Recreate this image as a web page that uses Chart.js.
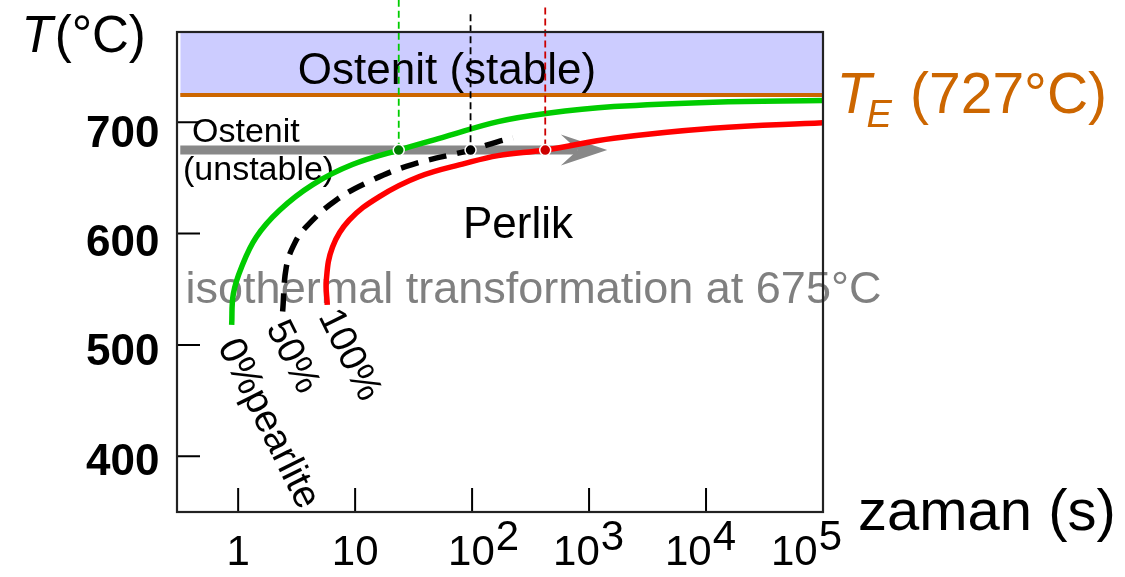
<!DOCTYPE html>
<html><head><meta charset="utf-8">
<script src="https://cdn.jsdelivr.net/npm/chart.js@4.4.0/dist/chart.umd.min.js"></script>
<style>html,body{margin:0;padding:0;background:#fff;}canvas{display:block;}</style>
</head><body>
<canvas id="c" width="1125" height="577"></canvas>
<script>
// ---- axis ticks ----
const xTickValues = [1, 10, 100, 1000, 10000, 100000];
const xTickBase = ['1', '10', '10', '10', '10', '10'];
const xTickExp = ['', '', '2', '3', '4', '5'];
const yTickValues = [400, 500, 600, 700];
const yTickLabels = ['400', '500', '600', '700'];

// ---- axis ranges ----
const timeMin = 0.32, timeMax = 100000;
const tempMin = 350, tempMax = 781;

// ---- reference temperatures ----
const eutectoidLabel = '727';
const eutectoidLine = 724.5;   // as drawn in the picture
const isoT = 675;

// ---- 0% pearlite (start) curve ----
const startTime = [0.88, 0.91, 1.07, 1.43, 2.26, 4.34, 9.48, 23.6, 59, 167, 442, 1628, 11500, 100000];
const startTemp = [518, 546, 570, 597, 621, 644, 662, 675, 687, 700.5, 708, 714, 718, 719.4];

// ---- 50% pearlite curve ----
const halfTime = [2.4, 2.58, 3.03, 3.81, 6.86, 14.0, 30.7, 97, 167, 224];
const halfTemp = [530, 570, 591, 606, 630, 648, 662, 675, 682.6, 686];

// ---- 100% pearlite (finish) curve ----
const finishTime = [5.78, 5.67, 6.41, 8.89, 16.0, 35.0, 87.2, 167, 422, 1628, 11500, 100000];
const finishTemp = [536, 558, 588, 612, 633, 651, 663, 670, 675, 685.6, 694.6, 699.6];

// ---- isothermal markers ----
const markTimes = [23.6, 97, 422];
const markTemps = [675, 675, 675];
const guideTopTemps = [810, 797, 803];

// ---- isothermal arrow ----
const arrowNotchTime = 800;
const arrowBackTime = 574;
const arrowTipTime = 1430;

const FONT = '"Liberation Sans", Arial, Helvetica, sans-serif';
const pts = (xs, ys) => xs.map((v, i) => ({x: v, y: ys[i]}));

function fontStr(size, o) {
  return (o.style || 'normal') + ' ' + (o.weight || 'normal') + ' ' + size + 'px ' + FONT;
}
function text(ctx, s, px, py, size, o = {}) {
  ctx.save();
  ctx.font = fontStr(size, o);
  ctx.fillStyle = o.color || '#000';
  ctx.textAlign = o.align || 'left';
  ctx.textBaseline = o.baseline || 'alphabetic';
  ctx.fillText(s, px, py);
  const w = ctx.measureText(s).width;
  ctx.restore();
  return w;
}
function measure(ctx, s, size, o = {}) {
  ctx.save();
  ctx.font = fontStr(size, o);
  const w = ctx.measureText(s).width;
  ctx.restore();
  return w;
}

const IDX_TE = 8, IDX_ARROW = 7;
// label placement tweaks (style only)
const xLabelShift = [0, 0, 11, -1, -6, -17];
const yLabelDrop = [19, 20.5, 22, 24.4];

const deco = {
  id: 'deco',
  afterDatasetDraw(chart, args) {
    const {ctx, scales: {x, y}} = chart;
    if (args.index === IDX_TE) {
      text(ctx, 'Ostenit (stable)', 447, 84, 44, {align: 'center'});
      text(ctx, 'Ostenit', 192, 141.5, 34);
      text(ctx, '(unstable)', 183, 180, 34);
      text(ctx, 'Perlik', 518, 238, 44, {align: 'center'});
      text(ctx, 'isothermal transformation at 675°C', 533.5, 303, 45, {align: 'center', color: '#808080'});
    }
    if (args.index === IDX_ARROW) {
      const yy = y.getPixelForValue(isoT);
      const xb = x.getPixelForValue(arrowBackTime);
      const xn = x.getPixelForValue(arrowNotchTime);
      const xt = x.getPixelForValue(arrowTipTime);
      ctx.save();
      ctx.fillStyle = '#888888';
      ctx.beginPath();
      ctx.moveTo(xb, yy - 15.5);
      ctx.lineTo(xt, yy);
      ctx.lineTo(xb, yy + 15.5);
      ctx.lineTo(xn, yy);
      ctx.closePath();
      ctx.fill();
      ctx.restore();
    }
  },
  afterDatasetsDraw(chart) {
    const {ctx, chartArea: a, scales: {x, y}} = chart;
    ctx.save();
    ctx.strokeStyle = '#000';
    ctx.lineWidth = 2;
    ctx.beginPath();
    yTickValues.forEach(v => { const py = y.getPixelForValue(v); ctx.moveTo(a.left, py); ctx.lineTo(a.left + 23, py); });
    xTickValues.forEach(v => { const px = x.getPixelForValue(v); if (px < a.right - 2) { ctx.moveTo(px, a.bottom); ctx.lineTo(px, a.bottom - 24); } });
    ctx.stroke();
    ctx.strokeStyle = '#222';
    ctx.lineWidth = 2.2;
    ctx.strokeRect(a.left, a.top, a.right - a.left, a.bottom - a.top);
    ctx.restore();
  },
  afterDraw(chart) {
    const {ctx, scales: {x, y}} = chart;
    // y tick labels
    yTickValues.forEach((v, i) => {
      text(ctx, yTickLabels[i], 159.5, y.getPixelForValue(v) + yLabelDrop[i], 44, {weight: 'bold', align: 'right'});
    });
    // x tick labels
    xTickValues.forEach((v, i) => {
      const px = x.getPixelForValue(v) + xLabelShift[i];
      const wb = measure(ctx, xTickBase[i], 42);
      const we = xTickExp[i] ? measure(ctx, xTickExp[i], 42) : 0;
      const start = px - (wb + we) / 2;
      text(ctx, xTickBase[i], start, 565, 42);
      if (xTickExp[i]) text(ctx, xTickExp[i], start + wb + 1, 550, 42);
    });
    // axis titles
    let w = text(ctx, 'T', 21.5, 51.7, 51, {style: 'italic'});
    text(ctx, '(°C)', 21.5 + w + 2, 51.7, 51);
    text(ctx, 'zaman (s)', 858, 530, 58);
    // eutectoid label
    const org = '#cc6600';
    text(ctx, 'T', 836.5, 113.3, 57, {style: 'italic', color: org});
    text(ctx, 'E', 866.5, 127, 38, {style: 'italic', color: org});
    text(ctx, '(' + eutectoidLabel + '°C)', 910, 113.3, 57, {color: org});
    // rotated curve labels
    const ang = 63.5 * Math.PI / 180;
    [['0%pearlite', 268, 424, 39], ['50%', 292, 357, 38], ['100%', 349, 355, 38]].forEach(([s, cx, cy, fs]) => {
      ctx.save();
      ctx.translate(cx, cy);
      ctx.rotate(ang);
      text(ctx, s, 0, 0, fs, {align: 'center', baseline: 'middle'});
      ctx.restore();
    });
  }
};

new Chart(document.getElementById('c'), {
  type: 'line',
  data: {
    datasets: [
      {label: 'markers', data: pts(markTimes, markTemps), showLine: false, pointRadius: 5.5, pointBorderWidth: 1.5,
       pointBorderColor: '#ffffff', pointBackgroundColor: ['#007a00', '#000000', '#cc0000'], order: 0},
      {label: 'g0', data: pts([markTimes[0], markTimes[0]], [guideTopTemps[0], markTemps[0]]), borderColor: '#00cc00',
       borderWidth: 1.8, borderDash: [7, 4], pointRadius: 0, clip: false, order: 1},
      {label: 'g1', data: pts([markTimes[1], markTimes[1]], [guideTopTemps[1], markTemps[1]]), borderColor: '#000000',
       borderWidth: 1.8, borderDash: [7, 4], pointRadius: 0, clip: false, order: 1},
      {label: 'g2', data: pts([markTimes[2], markTimes[2]], [guideTopTemps[2], markTemps[2]]), borderColor: '#cc0000',
       borderWidth: 1.8, borderDash: [7, 4], pointRadius: 0, clip: false, order: 1},
      {label: '0%', data: pts(startTime, startTemp), borderColor: '#00cc00', borderWidth: 5.5, tension: 0.4, pointRadius: 0, order: 2},
      {label: '50%', data: pts(halfTime, halfTemp), borderColor: '#000000', borderWidth: 5.5, borderDash: [18, 11], tension: 0.4, pointRadius: 0, order: 2},
      {label: '100%', data: pts(finishTime, finishTemp), borderColor: '#ff0000', borderWidth: 5.5, tension: 0.4, pointRadius: 0, order: 2},
      {label: 'arrow', data: pts([timeMin, arrowNotchTime], [isoT, isoT]), borderColor: '#888888', borderWidth: 9, pointRadius: 0, order: 3},
      {label: 'TE', data: pts([timeMin, timeMax], [eutectoidLine, eutectoidLine]), borderColor: '#cc6600', borderWidth: 4,
       fill: 'end', backgroundColor: '#ccccff', pointRadius: 0, order: 4}
    ]
  },
  options: {
    responsive: false,
    animation: false,
    events: [],
    layout: {padding: {left: 177, right: 302, top: 32, bottom: 65}},
    plugins: {legend: {display: false}, tooltip: {enabled: false}},
    scales: {
      x: {type: 'logarithmic', min: timeMin, max: timeMax, display: false},
      y: {type: 'linear', min: tempMin, max: tempMax, display: false}
    }
  },
  plugins: [deco]
});
</script>
</body></html>
